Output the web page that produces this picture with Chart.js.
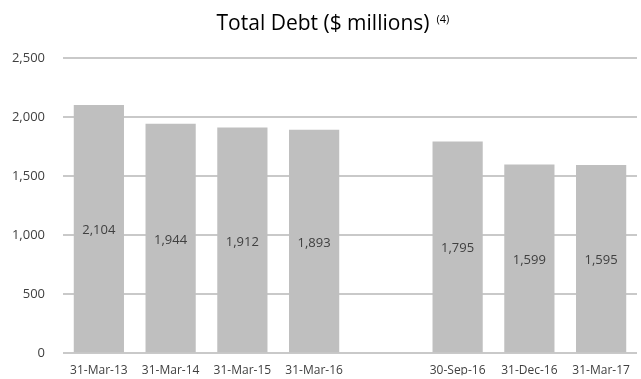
<!DOCTYPE html>
<html>
<head>
<meta charset="utf-8">
<script src="https://cdn.jsdelivr.net/npm/chart.js@4"></script>
<style>
  html, body { margin: 0; padding: 0; background: #fff; }
  #wrap { width: 641px; height: 379px; }
</style>
</head>
<body>
<div id="wrap"><canvas id="debtChart" width="641" height="379"></canvas></div>
<script>
// period labels, blank slot keeps the gap between the annual and quarterly bars
const periods = ['31-Mar-13', '31-Mar-14', '31-Mar-15', '31-Mar-16', '', '30-Sep-16', '31-Dec-16', '31-Mar-17']
const total_debt = [2104, 1944, 1912, 1893, null, 1795, 1599, 1595]
const y_ticks = [0, 500, 1000, 1500, 2000, 2500]

const FONT = "'Open Sans', 'Liberation Sans', sans-serif"
const TITLE_SIZE = 21
const fmt = v => v.toLocaleString('en-US')

// value labels sit in the middle of each bar
const barLabels = {
    id: 'barLabels',
    afterDatasetsDraw(chart) {
        const ctx = chart.ctx
        const meta = chart.getDatasetMeta(0)
        ctx.save()
        ctx.font = '13px ' + FONT
        ctx.fillStyle = '#404040'
        ctx.textAlign = 'center'
        ctx.textBaseline = 'middle'
        meta.data.forEach((bar, i) => {
            const v = total_debt[i]
            if (v == null) return
            ctx.fillText(fmt(v), bar.x, (bar.y + bar.base) / 2 + 2)
        })
        ctx.restore()
    }
}

// footnote marker after the title
const titleNote = {
    id: 'titleNote',
    afterDraw(chart) {
        const ctx = chart.ctx
        const t = chart.titleBlock
        const pad = chart.options.plugins.title.padding
        ctx.save()
        ctx.font = TITLE_SIZE + 'px ' + FONT
        const w = ctx.measureText(chart.options.plugins.title.text).width
        const cx = (t.left + t.right) / 2
        const cy = t.top + pad.top + TITLE_SIZE * 0.6
        ctx.font = '11px ' + FONT
        ctx.fillStyle = '#000'
        ctx.textBaseline = 'middle'
        ctx.fillText('(4)', cx + w / 2 + 7, cy - 4)
        ctx.restore()
    }
}

new Chart(document.getElementById('debtChart').getContext('2d'), {
    type: 'bar',
    data: {
        labels: periods,
        datasets: [{
            label: 'Total Debt',
            data: total_debt,
            backgroundColor: '#bfbfbf',
            barPercentage: 0.7,
            categoryPercentage: 1.0,
            borderWidth: 0
        }]
    },
    options: {
        responsive: false,
        animation: false,
        layout: { padding: { left: 9, right: 4, top: 4, bottom: 0 } },
        plugins: {
            legend: { display: false },
            tooltip: { enabled: false },
            title: {
                display: true,
                text: 'Total Debt ($ millions)',
                color: '#000',
                font: { family: FONT, size: TITLE_SIZE, weight: 'normal' },
                padding: { top: 7, bottom: 22 }
            }
        },
        scales: {
            x: {
                afterFit: axis => { axis.height = 22 },
                grid: { display: false, drawTicks: false },
                border: { display: false },
                ticks: {
                    color: '#404040',
                    font: { family: FONT, size: 12 },
                    maxRotation: 0,
                    autoSkip: false,
                    padding: 10
                }
            },
            y: {
                min: 0,
                max: 2500,
                afterBuildTicks: axis => { axis.ticks = y_ticks.map(v => ({ value: v })) },
                afterFit: axis => { axis.width = 54 },
                grid: { color: '#c9c9c9', lineWidth: 2, drawTicks: false },
                border: { display: false },
                ticks: {
                    color: '#404040',
                    font: { family: FONT, size: 13 },
                    padding: 18,
                    callback: v => fmt(v)
                }
            }
        }
    },
    plugins: [barLabels, titleNote]
})
</script>
</body>
</html>
